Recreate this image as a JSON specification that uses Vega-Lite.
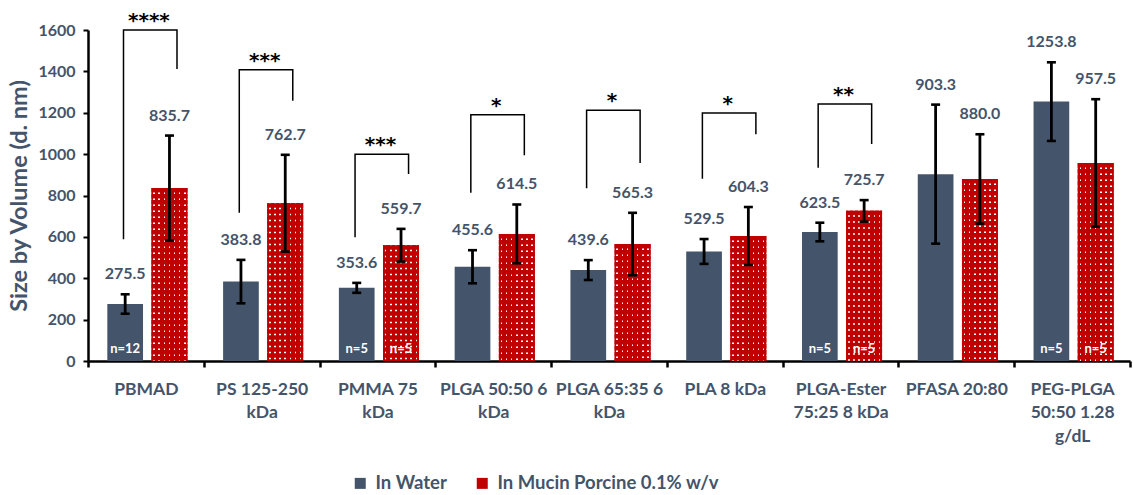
{
  "$schema": "https://vega.github.io/schema/vega-lite/v6.json",
  "width": 1042,
  "height": 331,
  "autosize": {"type": "none"},
  "padding": {"left": 88, "top": 30, "right": 4, "bottom": 134},
  "background": "white",
  "config": {"font": "Lato", "view": {"stroke": null}, "axis": {"grid": false}},
  "datasets": {
    "sizes": [
      {"cat": "PBMAD", "medium": "In Water", "mean": 275.5, "sd": 47, "n": "n=12"},
      {"cat": "PBMAD", "medium": "In Mucin Porcine 0.1% w/v", "mean": 835.7, "sd": 254, "n": null},
      {"cat": "PS 125-250\nkDa", "medium": "In Water", "mean": 383.8, "sd": 105, "n": null},
      {"cat": "PS 125-250\nkDa", "medium": "In Mucin Porcine 0.1% w/v", "mean": 762.7, "sd": 234, "n": null},
      {"cat": "PMMA 75\nkDa", "medium": "In Water", "mean": 353.6, "sd": 24, "n": "n=5"},
      {"cat": "PMMA 75\nkDa", "medium": "In Mucin Porcine 0.1% w/v", "mean": 559.7, "sd": 79, "n": "n=5"},
      {"cat": "PLGA 50:50 6\nkDa", "medium": "In Water", "mean": 455.6, "sd": 80, "n": null},
      {"cat": "PLGA 50:50 6\nkDa", "medium": "In Mucin Porcine 0.1% w/v", "mean": 614.5, "sd": 142, "n": null},
      {"cat": "PLGA 65:35 6\nkDa", "medium": "In Water", "mean": 439.6, "sd": 48, "n": null},
      {"cat": "PLGA 65:35 6\nkDa", "medium": "In Mucin Porcine 0.1% w/v", "mean": 565.3, "sd": 151, "n": null},
      {"cat": "PLA 8 kDa", "medium": "In Water", "mean": 529.5, "sd": 60, "n": null},
      {"cat": "PLA 8 kDa", "medium": "In Mucin Porcine 0.1% w/v", "mean": 604.3, "sd": 140, "n": null},
      {"cat": "PLGA-Ester\n75:25 8 kDa", "medium": "In Water", "mean": 623.5, "sd": 45, "n": "n=5"},
      {"cat": "PLGA-Ester\n75:25 8 kDa", "medium": "In Mucin Porcine 0.1% w/v", "mean": 725.7, "sd": 52, "n": "n=5"},
      {"cat": "PFASA 20:80", "medium": "In Water", "mean": 903.3, "sd": 336, "n": null},
      {"cat": "PFASA 20:80", "medium": "In Mucin Porcine 0.1% w/v", "mean": 880.0, "sd": 216, "n": null},
      {"cat": "PEG-PLGA\n50:50 1.28\ng/dL", "medium": "In Water", "mean": 1253.8, "sd": 190, "n": "n=5"},
      {"cat": "PEG-PLGA\n50:50 1.28\ng/dL", "medium": "In Mucin Porcine 0.1% w/v", "mean": 957.5, "sd": 308, "n": "n=5"}
    ],
    "brackets": [
      {"cat": "PBMAD", "end": "L", "k": 1, "y": 589},
      {"cat": "PBMAD", "end": "L", "k": 2, "y": 1600},
      {"cat": "PBMAD", "end": "R", "k": 3, "y": 1600},
      {"cat": "PBMAD", "end": "R", "k": 4, "y": 1411},
      {"cat": "PS 125-250\nkDa", "end": "L", "k": 1, "y": 717},
      {"cat": "PS 125-250\nkDa", "end": "L", "k": 2, "y": 1408},
      {"cat": "PS 125-250\nkDa", "end": "R", "k": 3, "y": 1408},
      {"cat": "PS 125-250\nkDa", "end": "R", "k": 4, "y": 1258},
      {"cat": "PMMA 75\nkDa", "end": "L", "k": 1, "y": 598},
      {"cat": "PMMA 75\nkDa", "end": "L", "k": 2, "y": 1000},
      {"cat": "PMMA 75\nkDa", "end": "R", "k": 3, "y": 1000},
      {"cat": "PMMA 75\nkDa", "end": "R", "k": 4, "y": 904},
      {"cat": "PLGA 50:50 6\nkDa", "end": "L", "k": 1, "y": 813},
      {"cat": "PLGA 50:50 6\nkDa", "end": "L", "k": 2, "y": 1190},
      {"cat": "PLGA 50:50 6\nkDa", "end": "R", "k": 3, "y": 1190},
      {"cat": "PLGA 50:50 6\nkDa", "end": "R", "k": 4, "y": 994},
      {"cat": "PLGA 65:35 6\nkDa", "end": "L", "k": 1, "y": 835},
      {"cat": "PLGA 65:35 6\nkDa", "end": "L", "k": 2, "y": 1212},
      {"cat": "PLGA 65:35 6\nkDa", "end": "R", "k": 3, "y": 1212},
      {"cat": "PLGA 65:35 6\nkDa", "end": "R", "k": 4, "y": 957},
      {"cat": "PLA 8 kDa", "end": "L", "k": 1, "y": 881},
      {"cat": "PLA 8 kDa", "end": "L", "k": 2, "y": 1199},
      {"cat": "PLA 8 kDa", "end": "R", "k": 3, "y": 1199},
      {"cat": "PLA 8 kDa", "end": "R", "k": 4, "y": 1096},
      {"cat": "PLGA-Ester\n75:25 8 kDa", "end": "L", "k": 1, "y": 934},
      {"cat": "PLGA-Ester\n75:25 8 kDa", "end": "L", "k": 2, "y": 1242},
      {"cat": "PLGA-Ester\n75:25 8 kDa", "end": "R", "k": 3, "y": 1242},
      {"cat": "PLGA-Ester\n75:25 8 kDa", "end": "R", "k": 4, "y": 1049}
    ],
    "stars": [
      {"cat": "PBMAD", "stars": "****", "top": 1600},
      {"cat": "PS 125-250\nkDa", "stars": "***", "top": 1408},
      {"cat": "PMMA 75\nkDa", "stars": "***", "top": 1000},
      {"cat": "PLGA 50:50 6\nkDa", "stars": "*", "top": 1190},
      {"cat": "PLGA 65:35 6\nkDa", "stars": "*", "top": 1212},
      {"cat": "PLA 8 kDa", "stars": "*", "top": 1199},
      {"cat": "PLGA-Ester\n75:25 8 kDa", "stars": "**", "top": 1242}
    ]
  },
  "resolve": {"scale": {"xOffset": "independent"}},
  "layer": [
    {
      "data": {"name": "sizes"},
      "transform": [
        {"calculate": "datum.mean - datum.sd", "as": "lo"},
        {"calculate": "datum.mean + datum.sd", "as": "hi"}
      ],
      "encoding": {
        "x": {
          "field": "cat",
          "type": "nominal",
          "sort": null,
          "scale": {
            "domain": ["PBMAD", "PS 125-250\nkDa", "PMMA 75\nkDa", "PLGA 50:50 6\nkDa", "PLGA 65:35 6\nkDa", "PLA 8 kDa", "PLGA-Ester\n75:25 8 kDa", "PFASA 20:80", "PEG-PLGA\n50:50 1.28\ng/dL"],
            "paddingInner": 0,
            "paddingOuter": 0
          },
          "axis": {
            "title": null,
            "labelAngle": 0,
            "labelExpr": "split(datum.label, '\\n')",
            "labelFontSize": 17.5,
            "labelFontWeight": "bold",
            "labelColor": "#44546A",
            "labelLineHeight": 23.5,
            "labelPadding": 13,
            "labelLimit": 0,
            "tickBand": "extent",
            "tickSize": 6,
            "tickWidth": 2.5,
            "tickColor": "black",
            "domainColor": "black",
            "domainWidth": 2.5
          }
        },
        "xOffset": {
          "field": "medium",
          "type": "nominal",
          "scale": {
            "domain": ["In Water", "In Mucin Porcine 0.1% w/v"],
            "paddingInner": 0.194,
            "paddingOuter": 0.404,
            "align": 0.54
          }
        }
      },
      "layer": [
        {
          "mark": {"type": "bar"},
          "encoding": {
            "y": {
              "field": "mean",
              "type": "quantitative",
              "scale": {"domain": [0, 1600]},
              "axis": {
                "values": [0, 200, 400, 600, 800, 1000, 1200, 1400, 1600],
                "format": "d",
                "title": "Size by Volume (d. nm)",
                "titleFontSize": 23.5,
                "titleFontWeight": "bold",
                "titleColor": "#44546A",
                "titlePadding": 6,
                "labelFontSize": 16,
                "labelFontWeight": "bold",
                "labelColor": "#44546A",
                "labelPadding": 8,
                "tickSize": 5,
                "tickWidth": 2,
                "tickColor": "black",
                "domainColor": "black",
                "domainWidth": 2.5
              }
            },
            "color": {
              "field": "medium",
              "type": "nominal",
              "scale": {"domain": ["In Water", "In Mucin Porcine 0.1% w/v"], "range": ["#44546A", "#C00000"]},
              "legend": {
                "title": null,
                "orient": "none",
                "direction": "horizontal",
                "legendX": 263,
                "legendY": 444,
                "symbolType": "square",
                "symbolSize": 121,
                "symbolStrokeWidth": 0,
                "labelFontSize": 18.5,
                "labelFontWeight": "bold",
                "labelColor": "#44546A",
                "labelLimit": 0,
                "labelOffset": 6,
                "columnPadding": 26
              }
            }
          }
        },
        {
          "transform": [{"filter": "datum.medium !== 'In Water'"}],
          "mark": {
            "type": "bar",
            "fill": {
              "gradient": "linear",
              "x1": 0, "y1": 0, "x2": 1, "y2": 0,
              "stops": [
                {"offset": 0, "color": "#C00000"},
                {"offset": 0.048, "color": "#C00000"}, {"offset": 0.048, "color": "#FFFFFF"},
                {"offset": 0.092, "color": "#FFFFFF"}, {"offset": 0.092, "color": "#C00000"},
                {"offset": 0.191, "color": "#C00000"}, {"offset": 0.191, "color": "#FFFFFF"},
                {"offset": 0.235, "color": "#FFFFFF"}, {"offset": 0.235, "color": "#C00000"},
                {"offset": 0.334, "color": "#C00000"}, {"offset": 0.334, "color": "#FFFFFF"},
                {"offset": 0.378, "color": "#FFFFFF"}, {"offset": 0.378, "color": "#C00000"},
                {"offset": 0.478, "color": "#C00000"}, {"offset": 0.478, "color": "#FFFFFF"},
                {"offset": 0.522, "color": "#FFFFFF"}, {"offset": 0.522, "color": "#C00000"},
                {"offset": 0.621, "color": "#C00000"}, {"offset": 0.621, "color": "#FFFFFF"},
                {"offset": 0.665, "color": "#FFFFFF"}, {"offset": 0.665, "color": "#C00000"},
                {"offset": 0.764, "color": "#C00000"}, {"offset": 0.764, "color": "#FFFFFF"},
                {"offset": 0.808, "color": "#FFFFFF"}, {"offset": 0.808, "color": "#C00000"},
                {"offset": 0.908, "color": "#C00000"}, {"offset": 0.908, "color": "#FFFFFF"},
                {"offset": 0.952, "color": "#FFFFFF"}, {"offset": 0.952, "color": "#C00000"},
                {"offset": 1, "color": "#C00000"}
              ]
            }
          },
          "encoding": {"y": {"field": "mean", "type": "quantitative"}}
        },
        {
          "transform": [{"filter": "datum.medium !== 'In Water'"}],
          "mark": {"type": "rule", "stroke": "#C00000", "strokeWidth": 36, "strokeDash": [4.5, 1.5], "strokeCap": "butt"},
          "encoding": {
            "y": {"field": "mean", "type": "quantitative"},
            "y2": {"datum": 0}
          }
        },
        {
          "mark": {"type": "rule", "color": "black", "strokeWidth": 2.8},
          "encoding": {
            "y": {"field": "lo", "type": "quantitative"},
            "y2": {"field": "hi"}
          }
        },
        {
          "mark": {"type": "tick", "color": "black", "thickness": 2.6, "size": 9, "opacity": 1},
          "encoding": {"y": {"field": "lo", "type": "quantitative"}}
        },
        {
          "mark": {"type": "tick", "color": "black", "thickness": 2.6, "size": 9, "opacity": 1},
          "encoding": {"y": {"field": "hi", "type": "quantitative"}}
        },
        {
          "mark": {"type": "text", "dy": -20, "baseline": "middle", "fontSize": 16, "fontWeight": "bold", "color": "#44546A"},
          "encoding": {
            "y": {"field": "hi", "type": "quantitative"},
            "text": {"field": "mean", "type": "quantitative", "format": ".1f"}
          }
        },
        {
          "transform": [{"filter": "isValid(datum.n)"}],
          "mark": {"type": "text", "dy": -12, "baseline": "middle", "fontSize": 13, "fontWeight": "bold", "color": "white"},
          "encoding": {
            "y": {"datum": 0, "type": "quantitative"},
            "text": {"field": "n"}
          }
        }
      ]
    },
    {
      "data": {"name": "brackets"},
      "mark": {"type": "line", "color": "black", "strokeWidth": 1.5},
      "encoding": {
        "x": {"field": "cat", "type": "nominal", "sort": null},
        "xOffset": {
          "field": "end",
          "type": "nominal",
          "scale": {"type": "point", "domain": ["L", "R"], "padding": 0.582, "align": 0.57}
        },
        "y": {"field": "y", "type": "quantitative"},
        "detail": {"field": "cat"},
        "order": {"field": "k", "type": "quantitative"}
      }
    },
    {
      "data": {"name": "stars"},
      "mark": {"type": "text", "baseline": "alphabetic", "dy": -3, "dx": 3, "font": "DejaVu Sans", "fontWeight": "bold", "fontSize": 20, "color": "black"},
      "encoding": {
        "x": {"field": "cat", "type": "nominal", "sort": null},
        "y": {"field": "top", "type": "quantitative"},
        "text": {"field": "stars"}
      }
    }
  ]
}
